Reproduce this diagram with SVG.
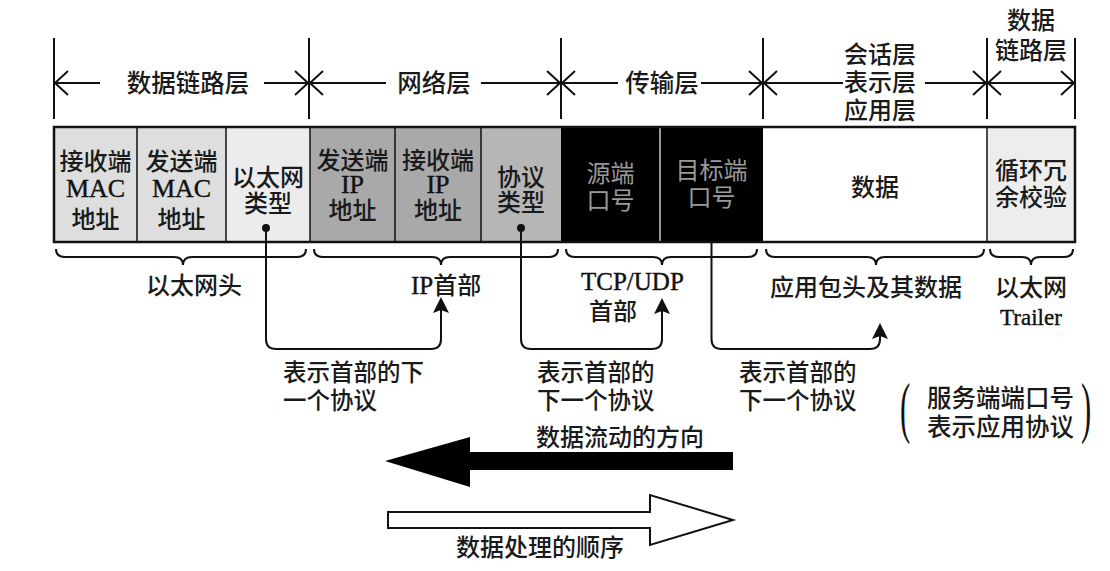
<svg xmlns="http://www.w3.org/2000/svg" width="1110" height="571" viewBox="0 0 1110 571">
<style>
.t{font-family:"Noto Sans CJK SC","Noto Sans",sans-serif;font-size:24px;font-weight:500;fill:#1a1a1a;}
.tm{text-anchor:middle;}
.l{font-family:"Liberation Serif","Noto Sans CJK SC",serif;font-size:26px;font-weight:400;fill:#111;stroke:#111;stroke-width:0.4;}
.dk{fill:#9a9a9a;font-weight:400;}
.ln{stroke:#111;stroke-width:2;fill:none;}
.tick{stroke:#111;stroke-width:2;}
.div{stroke:#111;stroke-width:1.5;}
</style>
<defs>
<path id="chevL" d="M14,-12 L1,0 L14,12" class="ln"/>
<path id="chevR" d="M-14,-12 L-1,0 L-14,12" class="ln"/>
<path id="head" d="M0,0 L8,16 L0,13 L-8,16 Z" fill="#111"/>
</defs>
<rect width="1110" height="571" fill="#fff"/>

<g id="layers">
<line class="tick" x1="54" y1="38" x2="54" y2="119"/>
<line class="tick" x1="309" y1="38" x2="309" y2="119"/>
<line class="tick" x1="561" y1="38" x2="561" y2="119"/>
<line class="tick" x1="763" y1="38" x2="763" y2="119"/>
<line class="tick" x1="987" y1="38" x2="987" y2="119"/>
<line class="tick" x1="1075" y1="38" x2="1075" y2="119"/>
<g id="layer-datalink">
<line class="ln" x1="55" y1="83" x2="100" y2="83"/><use href="#chevL" x="54" y="83"/>
<line class="ln" x1="264" y1="83" x2="308" y2="83"/><use href="#chevR" x="309" y="83"/>
<text class="t tm" x="188" y="92" style="font-size:24.5px">数据链路层</text>
</g>
<g id="layer-network">
<line class="ln" x1="310" y1="83" x2="386" y2="83"/><use href="#chevL" x="309" y="83"/>
<line class="ln" x1="481" y1="83" x2="560" y2="83"/><use href="#chevR" x="561" y="83"/>
<text class="t tm" x="434" y="92" style="font-size:24.5px">网络层</text>
</g>
<g id="layer-transport">
<line class="ln" x1="562" y1="83" x2="618" y2="83"/><use href="#chevL" x="561" y="83"/>
<line class="ln" x1="701" y1="83" x2="762" y2="83"/><use href="#chevR" x="763" y="83"/>
<text class="t tm" x="662" y="92" style="font-size:24.5px">传输层</text>
</g>
<g id="layer-app">
<line class="ln" x1="764" y1="83" x2="843" y2="83"/><use href="#chevL" x="763" y="83"/>
<line class="ln" x1="925" y1="83" x2="986" y2="83"/><use href="#chevR" x="987" y="83"/>
<text class="t tm" x="880" y="63">会话层</text>
<text class="t tm" x="880" y="91">表示层</text>
<text class="t tm" x="880" y="119">应用层</text>
</g>
<g id="layer-datalink2">
<line class="ln" x1="988" y1="83" x2="1074" y2="83"/><use href="#chevL" x="987" y="83"/><use href="#chevR" x="1075" y="83"/>
<text class="t tm" x="1031" y="29">数据</text>
<text class="t tm" x="1031" y="59">链路层</text>
</g>
</g>

<g id="frame">
<g id="cell-dst-mac"><rect x="54" y="127" width="83" height="115" fill="#dedede"/>
<text class="t tm" x="95.5" y="170">接收端</text><text class="l tm" x="95.5" y="197">MAC</text><text class="t tm" x="95.5" y="228">地址</text></g>
<g id="cell-src-mac"><rect x="137" y="127" width="89" height="115" fill="#dedede"/>
<text class="t tm" x="181.5" y="170">发送端</text><text class="l tm" x="181.5" y="197">MAC</text><text class="t tm" x="181.5" y="228">地址</text></g>
<g id="cell-eth-type"><rect x="226" y="127" width="84" height="115" fill="#ececec"/>
<text class="t tm" x="268" y="186">以太网</text><text class="t tm" x="268" y="212">类型</text></g>
<g id="cell-src-ip"><rect x="310" y="127" width="85" height="115" fill="#a9a9a9"/>
<text class="t tm" x="352.5" y="169">发送端</text><text class="l tm" x="352.5" y="193">IP</text><text class="t tm" x="352.5" y="218.5">地址</text></g>
<g id="cell-dst-ip"><rect x="395" y="127" width="86" height="115" fill="#a9a9a9"/>
<text class="t tm" x="438" y="169">接收端</text><text class="l tm" x="438" y="193">IP</text><text class="t tm" x="438" y="218.5">地址</text></g>
<g id="cell-proto"><rect x="481" y="127" width="80" height="115" fill="#b6b6b6"/>
<text class="t tm" x="521" y="186">协议</text><text class="t tm" x="521" y="211">类型</text></g>
<g id="cell-src-port"><rect x="561" y="127" width="99" height="115" fill="#000"/>
<text class="t tm dk" x="610.5" y="182">源端</text><text class="t tm dk" x="610.5" y="209">口号</text></g>
<g id="cell-dst-port"><rect x="660" y="127" width="103" height="115" fill="#000"/>
<text class="t tm dk" x="711.5" y="179">目标端</text><text class="t tm dk" x="711.5" y="206">口号</text></g>
<g id="cell-data"><rect x="763" y="127" width="224" height="115" fill="#fff"/>
<text class="t tm" x="875" y="195.5">数据</text></g>
<g id="cell-crc"><rect x="987" y="127" width="88" height="115" fill="#ededed"/>
<text class="t tm" x="1031" y="179">循环冗</text><text class="t tm" x="1031" y="206">余校验</text></g>
<line class="div" x1="137" y1="127" x2="137" y2="242"/>
<line class="div" x1="226" y1="127" x2="226" y2="242"/>
<line class="div" x1="310" y1="127" x2="310" y2="242"/>
<line class="div" x1="395" y1="127" x2="395" y2="242"/>
<line class="div" x1="481" y1="127" x2="481" y2="242"/>
<line x1="660" y1="128" x2="660" y2="241" stroke="#cfcfcf" stroke-width="1.5"/>
<line class="div" x1="987" y1="127" x2="987" y2="242"/>
<rect x="54" y="127" width="1021" height="115" fill="none" stroke="#111" stroke-width="2.5"/>
</g>

<g id="braces">
<path class="ln" d="M56,249 Q56,257 65,257 L174,257 Q183,257 183,265 Q183,257 192,257 L297,257 Q306,257 306,249"/>
<path class="ln" d="M314,249 Q314,257 323,257 L432,257 Q441,257 441,265 Q441,257 450,257 L549,257 Q558,257 558,249"/>
<path class="ln" d="M566,249 Q566,257 575,257 L653,257 Q662,257 662,265 Q662,257 671,257 L748,257 Q757,257 757,249"/>
<path class="ln" d="M766,249 Q766,257 775,257 L867,257 Q876,257 876,265 Q876,257 885,257 L975,257 Q984,257 984,249"/>
<path class="ln" d="M990,249 Q990,257 999,257 L1022,257 Q1031,257 1031,265 Q1031,257 1040,257 L1064,257 Q1073,257 1073,249"/>
</g>

<g id="brace-labels">
<text class="t tm" x="194" y="294">以太网头</text>
<text class="t" x="411" y="294"><tspan class="l" style="font-size:25px">IP</tspan>首部</text>
<text class="l" x="581" y="290" style="font-size:25px">TCP/UDP</text>
<text class="t" x="589" y="320">首部</text>
<text class="t tm" x="866" y="296">应用包头及其数据</text>
<text class="t tm" x="1031" y="296">以太网</text>
<text class="l tm" x="1031" y="325" style="font-size:23px">Trailer</text>
</g>

<g id="connectors">
<circle cx="266" cy="228" r="4" fill="#111"/>
<circle cx="521" cy="228" r="4" fill="#111"/>
<path class="ln" d="M266,228 V339 Q266,349 276,349 H431 Q441,349 441,339 V308"/>
<use href="#head" x="441" y="297"/>
<path class="ln" d="M521,228 V339 Q521,349 531,349 H652 Q662,349 662,339 V308"/>
<use href="#head" x="662" y="298"/>
<path class="ln" d="M711.5,242 V339 Q711.5,349 721.5,349 H870 Q880,349 880,339 V333"/>
<use href="#head" x="880" y="323"/>
</g>

<g id="notes">
<text class="t" x="283" y="381" style="font-size:23.5px">表示首部的下</text>
<text class="t" x="283" y="409" style="font-size:23.5px">一个协议</text>
<text class="t" x="537" y="381" style="font-size:23.5px">表示首部的</text>
<text class="t" x="537" y="409" style="font-size:23.5px">下一个协议</text>
<text class="t" x="739" y="381" style="font-size:23.5px">表示首部的</text>
<text class="t" x="739" y="409" style="font-size:23.5px">下一个协议</text>
<text class="l" transform="translate(900,430) scale(0.45,1)" x="0" y="0" style="font-size:68px;stroke-width:0">(</text>
<text class="t" x="927" y="407" style="font-size:24.5px">服务端端口号</text>
<text class="t" x="927" y="436" style="font-size:24.5px">表示应用协议</text>
<text class="l" transform="translate(1081,430) scale(0.45,1)" x="0" y="0" style="font-size:68px;stroke-width:0">)</text>
</g>

<g id="flow-arrows">
<polygon points="385,461 470,437 470,452 733,452 733,470 470,470 470,487" fill="#000"/>
<text class="t tm" x="620" y="446">数据流动的方向</text>
<polygon points="388,512 650,512 650,495 733,520 650,545 650,528 388,528" fill="#fff" stroke="#111" stroke-width="2"/>
<text class="t tm" x="540" y="556">数据处理的顺序</text>
</g>
</svg>
